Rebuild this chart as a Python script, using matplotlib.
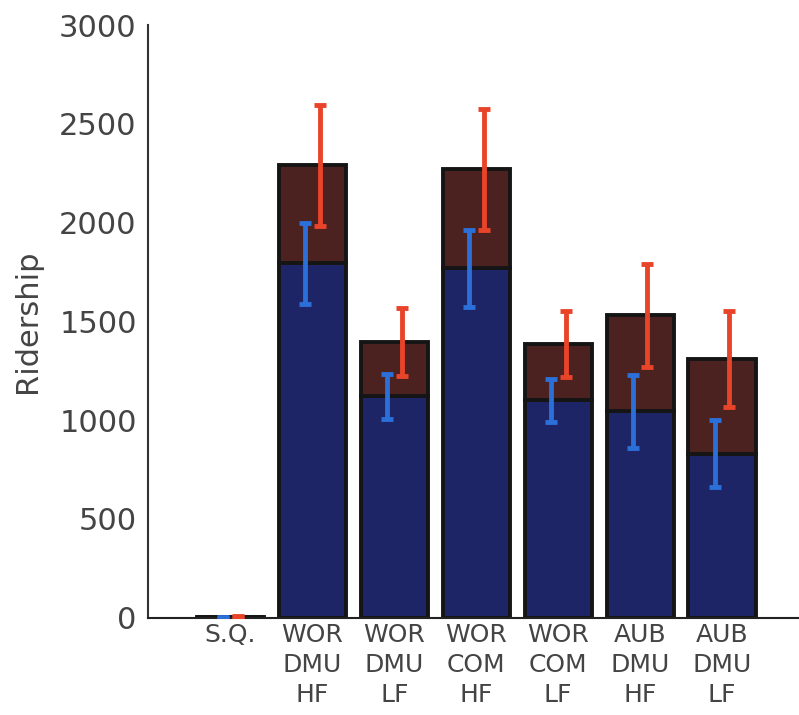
import numpy as np
import matplotlib
matplotlib.use("Agg")
from matplotlib import pyplot as plt

labels = ["S.Q.", "WOR\nDMU\nHF", "WOR\nDMU\nLF", "WOR\nCOM\nHF",
          "WOR\nCOM\nLF", "AUB\nDMU\nHF", "AUB\nDMU\nLF"]
blue_vals = [3, 1795, 1120, 1770, 1100, 1045, 830]
total_vals = [6, 2290, 1395, 2270, 1385, 1530, 1310]
blue_err = [2, 205, 115, 195, 110, 185, 170]
red_err = [2, 305, 172, 305, 168, 260, 245]

red_vals = [t - b for t, b in zip(total_vals, blue_vals)]

fig = plt.figure(figsize=(7.99, 7.15), dpi=100)
ax = fig.add_axes([0.185, 0.136, 0.815, 0.829])

x = np.arange(len(labels))
w = 0.82
ax.bar(x, blue_vals, w, color="#1d2566", edgecolor="#151515", linewidth=2.8, zorder=2)
ax.bar(x, red_vals, w, bottom=blue_vals, color="#4b2220", edgecolor="#151515",
       linewidth=2.8, zorder=2)

ax.errorbar(x - 0.09, blue_vals, yerr=blue_err, fmt="none", ecolor="#2b6fd8",
            elinewidth=3.5, capsize=4.5, capthick=3.5, zorder=3)
ax.errorbar(x + 0.09, total_vals, yerr=red_err, fmt="none", ecolor="#e8442a",
            elinewidth=3.5, capsize=4.5, capthick=3.5, zorder=3)

ax.set_xlim(-1.01, 6.94)
ax.set_ylim(0, 3000)
ax.set_yticks(np.arange(0, 3001, 500))
ax.set_xticks(x)
ax.set_xticklabels(labels, fontsize=18, color="#444444", linespacing=1.3)
ax.tick_params(axis="y", length=0, labelsize=22, labelcolor="#444444", pad=8)
ax.tick_params(axis="x", length=0, pad=4)
ax.set_ylabel("Ridership", fontsize=22, color="#444444", labelpad=12)

for s in ["top", "right"]:
    ax.spines[s].set_visible(False)
ax.spines["left"].set_color("#333333")
ax.spines["left"].set_linewidth(1.5)
ax.spines["bottom"].set_color("#222222")
ax.spines["bottom"].set_linewidth(1.5)

fig.savefig("out.png", dpi=100)
